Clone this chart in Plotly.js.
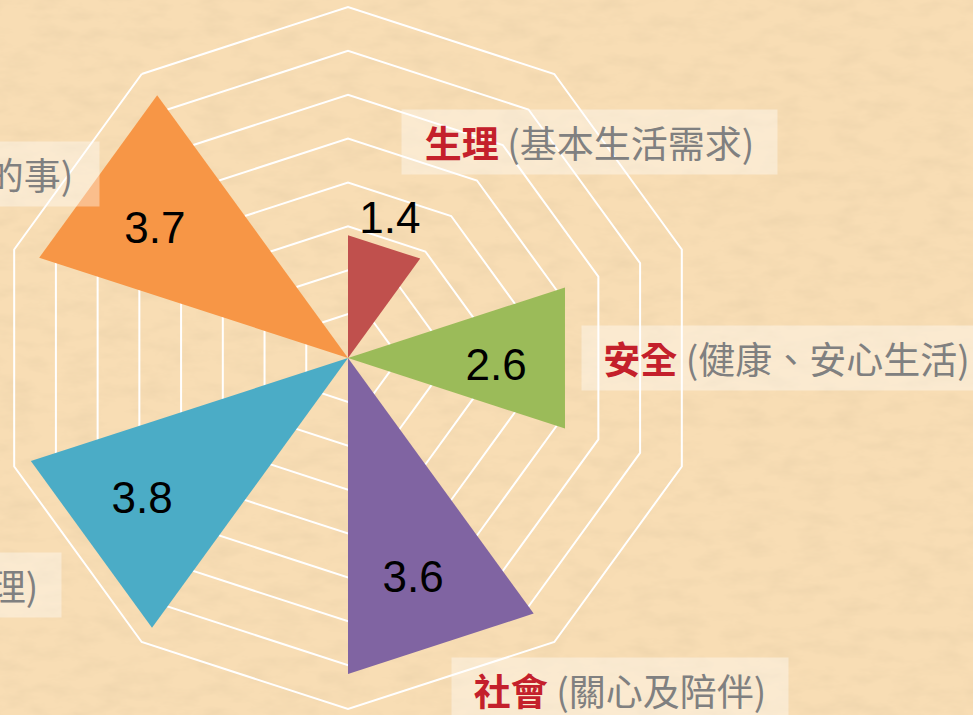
<!DOCTYPE html>
<html><head><meta charset="utf-8">
<script src="https://cdn.plot.ly/plotly-3.0.1.min.js"></script>
<style>
html,body{margin:0;padding:0;overflow:hidden;width:973px;height:715px;}
body{
  background-color:#f8ddb4;
  background-repeat:no-repeat;
  background-image:url("data:image/svg+xml;utf8,<svg xmlns='http://www.w3.org/2000/svg' width='973' height='715'><filter id='n' x='0' y='0' width='100%' height='100%'><feTurbulence type='fractalNoise' baseFrequency='0.03 0.07' numOctaves='4' seed='11'/><feColorMatrix values='0 0 0 0 0.66  0 0 0 0 0.52  0 0 0 0 0.32  0 0 0 0.42 -0.17'/></filter><rect width='100%' height='100%' filter='url(%23n)'/></svg>");
}
#chart{position:absolute;left:-27px;top:0;width:1000px;height:715px;}
</style>
</head><body><div id="chart"></div>
<script>
// ---- data ----
const categories = ['生理', '安全', '社會', '尊重', '自我實現'];
const descriptions = ['基本生活需求', '健康、安心生活', '關心及陪伴', '自尊及自我管理', '做自己喜歡的事'];
const scores = [1.4, 2.6, 3.6, 3.8, 3.7];
const centerAngles = [72, 0, -72, -144, 144];   // degrees, counter-clockwise from east
const colors = ['#c0504d', '#9bbb59', '#8064a2', '#4bacc6', '#f79646'];
const gridSlots = ['s0','s1','s2','s3','s4','s5','s6','s7','s8','s9'];

// ---- styling / placement (layout only) ----
const halfWidth = 18;
const labelR = [1.617, 1.692, 2.642, 2.861, 2.630];
const labelTheta = [72.8, -4.4, -73.7, -145.1, 146.8];
// annotation boxes in page pixels: [x, y, xanchor, width]
const boxPos = [
  [589.5, 142.5, 'center', 367],
  [581, 358, 'left', 401],
  [620, 690, 'center', 328],
  [62, 585, 'right', 404],
  [100, 174, 'right', 484]
];

const W = 1000, H = 715, OFF = 27;
const cx = 348 + OFF, cy = 358, R = 351;
const dom = {x: [(cx - R) / W, (cx + R) / W], y: [1 - (cy + R) / H, 1 - (cy - R) / H]};

const traces = [
  {type: 'scatterpolar', subplot: 'polar', theta: gridSlots, r: gridSlots.map(() => 0),
   mode: 'markers', marker: {opacity: 0}, hoverinfo: 'skip', showlegend: false}
];
categories.forEach((c, i) => {
  traces.push({
    type: 'scatterpolar', subplot: 'polar2', name: c,
    r: [0, scores[i], scores[i], 0],
    theta: [centerAngles[i], centerAngles[i] + halfWidth, centerAngles[i] - halfWidth, centerAngles[i]],
    mode: 'lines', fill: 'toself', fillcolor: colors[i],
    line: {width: 0, color: colors[i]}, hoveron: 'fills', showlegend: false
  });
});
traces.push({
  type: 'scatterpolar', subplot: 'polar2', r: labelR, theta: labelTheta, mode: 'text',
  text: scores.map(v => v.toFixed(1)), textposition: 'middle center',
  textfont: {family: 'Arial, Liberation Sans, sans-serif', size: 44, color: '#000'},
  hoverinfo: 'skip', showlegend: false
});

const annotations = categories.map((c, i) => ({
  xref: 'paper', yref: 'paper',
  x: (boxPos[i][0] + OFF) / W, y: 1 - boxPos[i][1] / H,
  xanchor: boxPos[i][2], yanchor: 'middle',
  width: boxPos[i][3], height: 56, borderpad: 4, align: 'center', valign: 'middle',
  showarrow: false, bgcolor: 'rgba(255,255,255,0.38)',
  text: '<b><span style="color:#c4202b">' + c + '</span></b> (' + descriptions[i] + ')',
  font: {family: '"Noto Sans CJK TC", "Noto Sans", sans-serif', size: 37, color: '#808080'}
}));

const layout = {
  width: W, height: H,
  margin: {l: 0, r: 0, t: 0, b: 0},
  paper_bgcolor: 'rgba(0,0,0,0)',
  showlegend: false,
  polar: {
    domain: dom, bgcolor: 'rgba(0,0,0,0)', gridshape: 'linear',
    radialaxis: {range: [0, 4], dtick: 0.5, showticklabels: false, ticks: '', showline: false,
                 gridcolor: '#ffffff', gridwidth: 2},
    angularaxis: {type: 'category', categoryorder: 'array', categoryarray: gridSlots,
                  rotation: 90, direction: 'clockwise', showgrid: false,
                  showticklabels: false, ticks: '', showline: true, linecolor: '#ffffff', linewidth: 2}
  },
  polar2: {
    domain: dom, bgcolor: 'rgba(0,0,0,0)',
    radialaxis: {range: [0, 4], visible: false},
    angularaxis: {visible: false, rotation: 0, direction: 'counterclockwise'}
  },
  annotations: annotations
};

Plotly.newPlot('chart', traces, layout, {displayModeBar: false, staticPlot: true});
</script>
</body></html>
